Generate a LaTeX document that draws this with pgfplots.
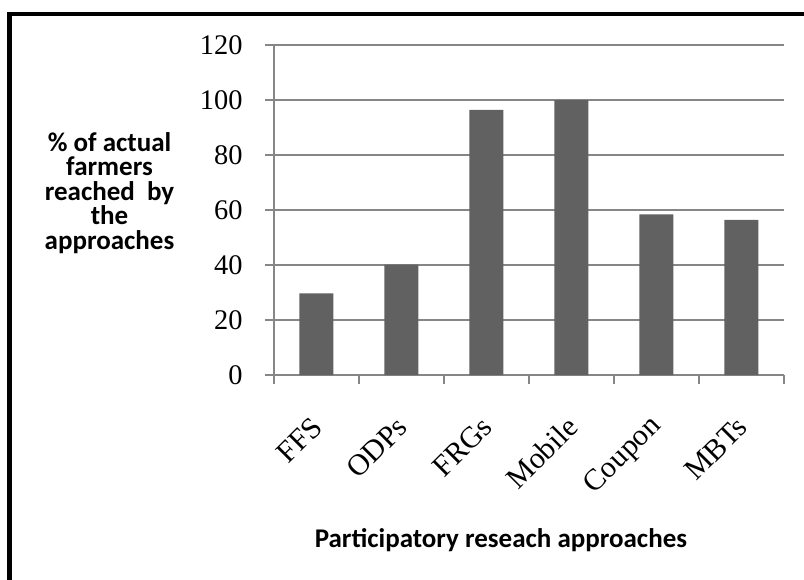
\documentclass[border=0pt]{standalone}
\usepackage{pgfplots}
\pgfplotsset{compat=1.18}
\usepackage{fontspec}
\setmainfont{Liberation Serif}
\newfontfamily\calib{Carlito}
\definecolor{barc}{RGB}{97,97,97}
\definecolor{gridc}{RGB}{134,134,134}
\begin{document}
\begin{tikzpicture}
\useasboundingbox (0,0) rectangle (402pt,-289.5pt);
\draw[line width=2.4pt,black] (4.6pt,-310pt) -- (4.6pt,-7pt) -- (420pt,-7pt);
\begin{axis}[
  at={(137pt,-187.5pt)}, anchor=south west,
  scale only axis, width=255pt, height=165pt,
  xmin=0.5, xmax=6.5, ymin=0, ymax=120,
  ytick={0,20,...,120},
  xtick={1,2,3,4,5,6},
  xticklabels={FFS,ODPs,FRGs,Mobile,Coupon,MBTs},
  minor xtick={0.5,1.5,...,6.5},
  major x tick style={draw=none},
  minor x tick style={draw=gridc, line width=1pt},
  minor tick length=4.5pt,
  axis lines*=left,
  axis line style={gridc, line width=1pt},
  tick align=outside,
  major tick length=4.5pt,
  tick style={gridc, line width=1pt},
  ymajorgrids, grid style={gridc, line width=1pt},
  /pgf/number format/assume math mode=true,
  yticklabel style={font=\fontsize{14.2}{16}\selectfont, anchor=east, inner sep=0pt, xshift=-11pt},
  xticklabel style={font=\fontsize{15}{17}\selectfont, anchor=east, inner sep=0pt, xshift=0.5pt, yshift=-19pt, rotate=45},
  xlabel={Participatory reseach approaches},
  xlabel style={at={(rel axis cs:0.445,-0.5)}, anchor=center, font=\calib\bfseries\fontsize{13.5}{13.5}\selectfont},
  ylabel={\% of actual\\farmers\\reached~ by\\the\\approaches},
  ylabel style={at={(rel axis cs:-0.3225,0.5515)}, anchor=center, rotate=-90, align=center, font=\calib\bfseries\fontsize{13.5}{12.2}\selectfont},
  clip=false,
]
\addplot[ybar, bar width=17pt, fill=barc, draw=none] coordinates {(1,29.7) (2,40.1) (3,96.4) (4,100) (5,58.4) (6,56.4)};
\end{axis}
\end{tikzpicture}
\end{document}
